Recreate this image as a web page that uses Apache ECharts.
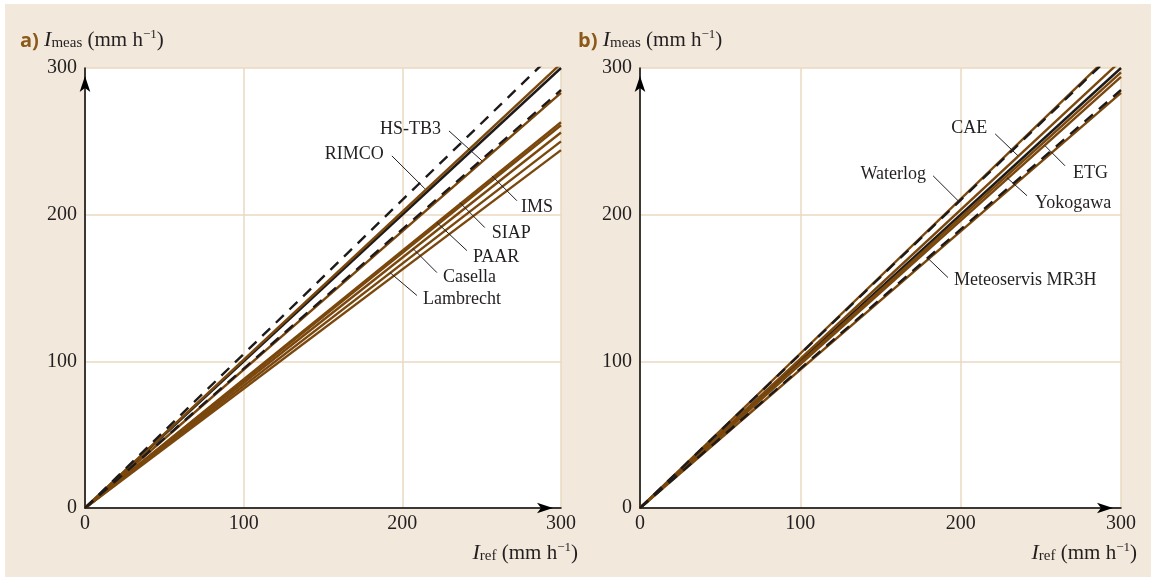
<!DOCTYPE html>
<html><head><meta charset="utf-8">
<script src="https://cdn.jsdelivr.net/npm/echarts@6/dist/echarts.min.js"></script>
<style>
html,body{margin:0;padding:0;background:#fff;}
#bg{position:absolute;left:5px;top:4px;width:1146px;height:573px;background:#f2e9dc;}
#chart{position:absolute;left:0;top:0;width:1156px;height:579px;}
</style></head><body><div id="bg"></div><div id="chart"></div>
<script>
// Reference intensity I_ref at the two ends of every straight line
const refX = [0, 300];
// Panel a: I_meas at I_ref = 0 and 300
const aOneToOne  = [0, 300];
const aUpper     = [0, 315];
const aLower     = [0, 285];
const aRIMCO     = [0, 303];
const aHSTB3     = [0, 283];
const aIMS       = [0, 263];
const aSIAP      = [0, 261];
const aPAAR      = [0, 256];
const aCasella   = [0, 250];
const aLambrecht = [0, 244];
// Panel b
const bOneToOne   = [0, 300];
const bUpper      = [0, 315];
const bLower      = [0, 285];
const bWaterlog   = [0, 316];
const bCAE        = [0, 305];
const bETG        = [0, 297];
const bYokogawa   = [0, 294];
const bMeteoservis= [0, 283];
// Tick values
const axisMin = 0, axisMax = 300, axisStep = 100;
// Annotation names and leader lines (data coords: start x,y -> end x,y)
const aNames = ['RIMCO','HS-TB3','IMS','SIAP','PAAR','Casella','Lambrecht'];
const aLeaders = [[193.4,240.1,214.2,217.7],[229.4,257.1,250.2,236.7],[272.2,209.5,256.5,226.5],[252.0,191.2,236.3,208.2],[240.7,175.5,221.8,194.6],[221.8,160.5,206.7,176.9],[209.2,144.9,192.2,160.5]];
const bNames = ['CAE','Waterlog','ETG','Yokogawa','Meteoservis MR3H'];
const bLeaders = [[221.5,255.1,235.8,240.1],[182.8,226.5,198.4,209.5],[265.1,233.3,252.7,246.9],[241.4,212.9,228.9,225.2],[192.1,157.1,179.7,170.1]];

// layout of annotation texts relative to leader start (pixels)
const aTextLayout = [{align:'right',dx:-8,dy:-2},{align:'right',dx:-8,dy:-2},{align:'left',dx:4,dy:7},{align:'left',dx:7,dy:6},{align:'left',dx:6,dy:7},{align:'left',dx:6,dy:5},{align:'left',dx:6,dy:4}];
const bTextLayout = [{align:'right',dx:-8,dy:-6},{align:'right',dx:-7,dy:-2},{align:'left',dx:8,dy:7},{align:'left',dx:8,dy:8},{align:'left',dx:6,dy:3}];

const BROWN = '#7a470d', BLACK = '#1e1a1a', INK = '#231f20';
const SERIF = '"Liberation Serif", "Times New Roman", serif';

function pts(v){ return refX.map((x,i)=>[x, v[i]]); }
function lineS(g, v, color, dashed){
  return {type:'line', xAxisIndex:g, yAxisIndex:g, data:pts(v), showSymbol:false, silent:true,
    z: dashed ? 4 : (color===BLACK ? 2 : 3),
    lineStyle:{color:color, width:2.4, type: dashed ? [11,8] : 'solid'}, clip:true, animation:false};
}
function leaderS(g, names, leaders, layout){
  return {type:'custom', xAxisIndex:g, yAxisIndex:g, silent:true, z:10, clip:false, animation:false,
    data: leaders.map(l=>l.slice()),
    renderItem:function(params, api){
      const i = params.dataIndex;
      const p1 = api.coord([api.value(0), api.value(1)]);
      const p2 = api.coord([api.value(2), api.value(3)]);
      const L = layout[i];
      return {type:'group', children:[
        {type:'line', shape:{x1:p1[0],y1:p1[1],x2:p2[0],y2:p2[1]}, style:{stroke:INK, lineWidth:1}},
        {type:'text', x:p1[0]+L.dx, y:p1[1]+L.dy, style:{text:names[i], fontFamily:SERIF, fontSize:18, fill:INK, align:L.align, verticalAlign:'middle'}}
      ]};
    }};
}
function xAx(g){
  return {type:'value', gridIndex:g, min:axisMin, max:axisMax, interval:axisStep,
    axisLine:{show:true, onZero:false, lineStyle:{color:'#000', width:1.5}, symbol:['none','arrow'], symbolSize:[8,16], symbolOffset:[0,-8]},
    axisTick:{show:false},
    axisLabel:{color:INK, fontFamily:SERIF, fontSize:20, margin:6},
    splitLine:{show:true, lineStyle:{color:'#ead8c0', width:1.5}}};
}
function yAx(g){
  return {type:'value', gridIndex:g, min:axisMin, max:axisMax, interval:axisStep,
    axisLine:{show:true, onZero:false, lineStyle:{color:'#000', width:1.5}, symbol:['none','arrow'], symbolSize:[8,16], symbolOffset:[0,-8]},
    axisTick:{show:false},
    axisLabel:{color:INK, fontFamily:SERIF, fontSize:20, margin:8},
    splitLine:{show:true, lineStyle:{color:'#ead8c0', width:1.5}}};
}
const rich = {
  a:{fontFamily:'"Open Sans", "Liberation Sans", sans-serif', fontWeight:'bold', fontSize:20, fill:'#8b5a1b', color:'#8b5a1b', lineHeight:23, verticalAlign:'bottom'},
  i:{fontFamily:SERIF, fontStyle:'italic', fontSize:22, fill:INK, color:INK, lineHeight:23, verticalAlign:'bottom'},
  s:{fontFamily:SERIF, fontSize:15, fill:INK, color:INK, lineHeight:16, verticalAlign:'bottom'},
  t:{fontFamily:SERIF, fontSize:21, fill:INK, color:INK, lineHeight:23, verticalAlign:'bottom'},
  p:{fontFamily:SERIF, fontSize:13, fill:INK, color:INK, lineHeight:13, verticalAlign:'top'},
  w:{fontFamily:SERIF, fontSize:21, lineHeight:23, verticalAlign:'bottom'}
};
function title(text, pos){ return Object.assign({type:'text', style:{text:text, rich:rich}}, pos); }

const chart = echarts.init(document.getElementById('chart'), null, {renderer:'canvas'});
chart.setOption({
  animation:false,
  grid:[
    {left:85, right:595, top:68, bottom:71, show:true, backgroundColor:'#ffffff', borderWidth:0},
    {left:640, right:35, top:68, bottom:71, show:true, backgroundColor:'#ffffff', borderWidth:0}
  ],
  xAxis:[xAx(0), xAx(1)],
  yAxis:[yAx(0), yAx(1)],
  graphic:[
    title('{a|a)}{w| }{i|I}{s|meas}{w| }{t|(mm h}{p|−1}{t|)}', {left:20, top:28}),
    title('{a|b)}{w| }{i|I}{s|meas}{w| }{t|(mm h}{p|−1}{t|)}', {left:578, top:28}),
    title('{i|I}{s|ref}{w| }{t|(mm h}{p|−1}{t|)}', {right:578, top:541}),
    title('{i|I}{s|ref}{w| }{t|(mm h}{p|−1}{t|)}', {right:19, top:541})
  ],
  series:[
    lineS(0, aOneToOne, BLACK, false),
    lineS(0, aRIMCO, BROWN, false),
    lineS(0, aHSTB3, BROWN, false),
    lineS(0, aIMS, BROWN, false),
    lineS(0, aSIAP, BROWN, false),
    lineS(0, aPAAR, BROWN, false),
    lineS(0, aCasella, BROWN, false),
    lineS(0, aLambrecht, BROWN, false),
    lineS(0, aUpper, BLACK, true),
    lineS(0, aLower, BLACK, true),
    leaderS(0, aNames, aLeaders, aTextLayout),
    lineS(1, bOneToOne, BLACK, false),
    lineS(1, bWaterlog, BROWN, false),
    lineS(1, bCAE, BROWN, false),
    lineS(1, bETG, BROWN, false),
    lineS(1, bYokogawa, BROWN, false),
    lineS(1, bMeteoservis, BROWN, false),
    lineS(1, bUpper, BLACK, true),
    lineS(1, bLower, BLACK, true),
    leaderS(1, bNames, bLeaders, bTextLayout)
  ]
});
</script></body></html>
